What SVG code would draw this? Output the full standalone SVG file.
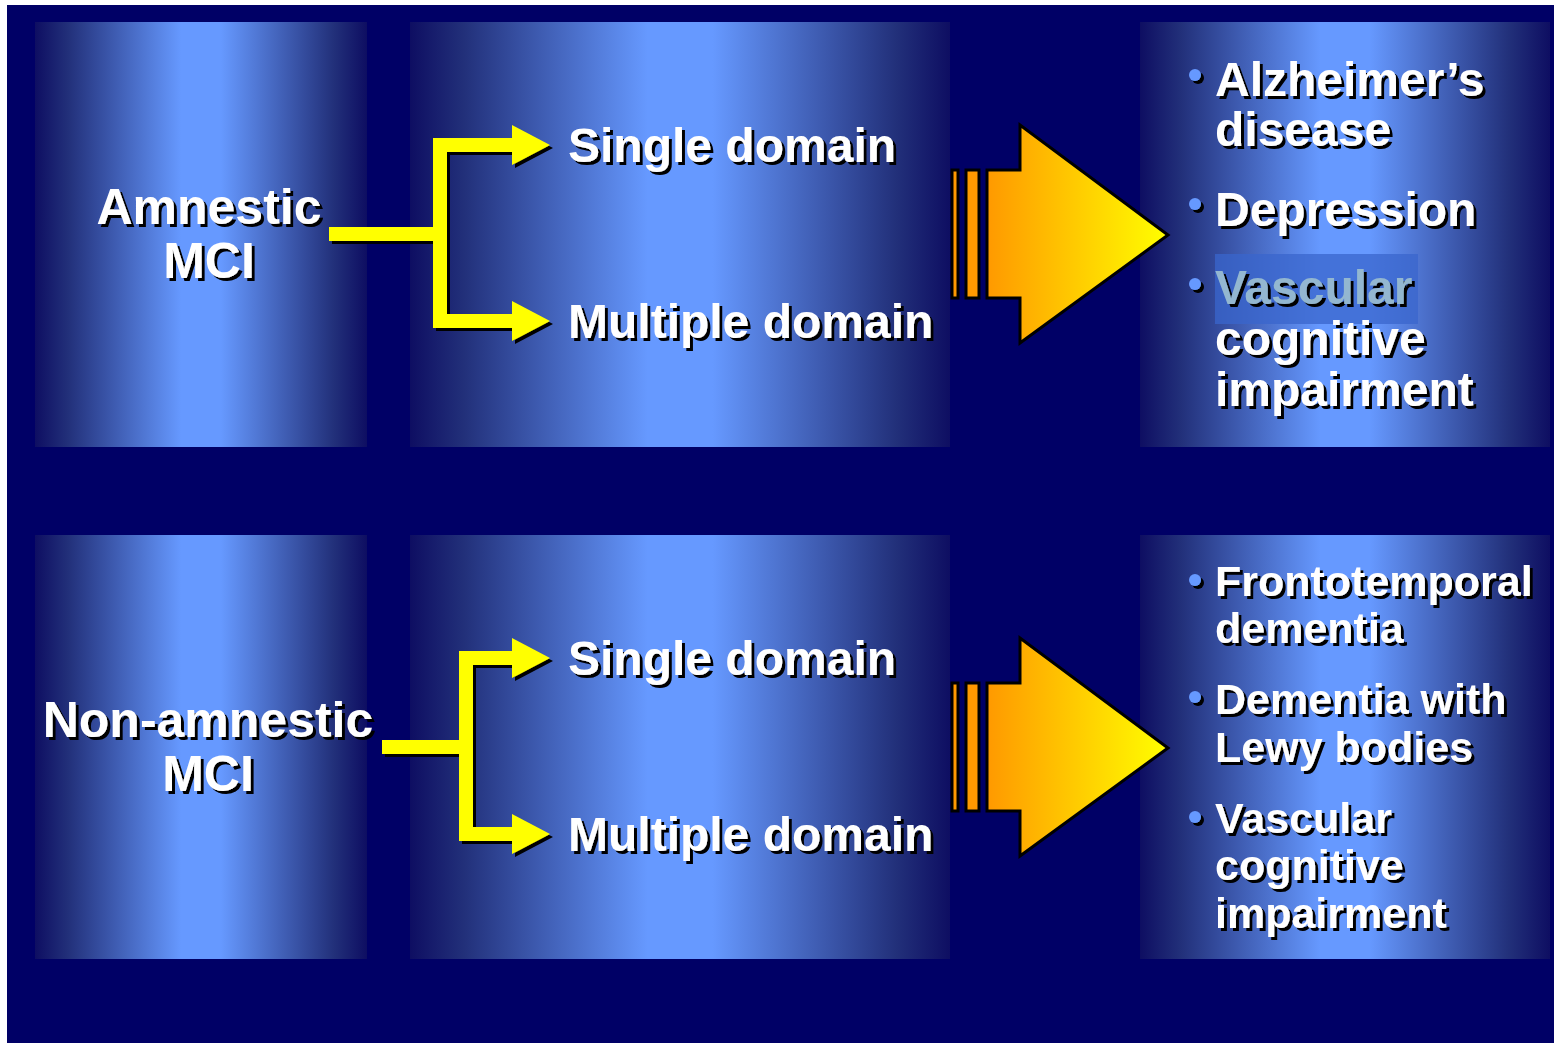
<svg xmlns="http://www.w3.org/2000/svg" width="1554" height="1043" viewBox="0 0 1554 1043">
<defs>
<linearGradient id="panelGrad" x1="0" y1="0" x2="1" y2="0">
<stop offset="0" stop-color="#0e0e62"/>
<stop offset="0.1" stop-color="#22307a"/>
<stop offset="0.44" stop-color="#6699ff"/>
<stop offset="0.56" stop-color="#6699ff"/>
<stop offset="0.9" stop-color="#22307a"/>
<stop offset="1" stop-color="#0e0e62"/>
</linearGradient>
<linearGradient id="arrowGrad" x1="0" y1="0" x2="1" y2="0">
<stop offset="0" stop-color="#ff9900"/>
<stop offset="1" stop-color="#ffff00"/>
</linearGradient>
<filter id="shadow" x="-10%" y="-10%" width="130%" height="130%">
<feDropShadow dx="3" dy="3" stdDeviation="0.6" flood-color="#000000" flood-opacity="1"/>
</filter>
</defs>
<style>
.panel{fill:url(#panelGrad);}
.lbl{font-family:"Liberation Sans",Arial,sans-serif;font-weight:bold;fill:#ffffff;filter:url(#shadow);}
.big{font-size:48px;}
.left{font-size:50px;}
.small{font-size:43px;}
.mid{text-anchor:middle;}
.bullet{fill:#6699ff;filter:url(#shadow);}
.conn{fill:none;stroke:#ffff00;stroke-width:14;}
.head{fill:#ffff00;}
.bigarrow{fill:url(#arrowGrad);stroke:#000000;stroke-width:3;stroke-linejoin:miter;}
.stripe{fill:#ff9900;stroke:#000000;stroke-width:3;}
</style>
<rect x="0" y="0" width="1554" height="1043" fill="#ffffff"/>
<rect x="7" y="5" width="1547" height="1038" fill="#000066"/>

<g id="amnestic">
<rect class="panel" x="35" y="22" width="332" height="425"/>
<text class="lbl left mid" x="209" y="224">Amnestic</text>
<text class="lbl left mid" x="209" y="278">MCI</text>
</g>
<g id="amnestic-domains">
<rect class="panel" x="410" y="22" width="540" height="425"/>
<text class="lbl big" x="568" y="162">Single domain</text>
<text class="lbl big" x="568" y="338">Multiple domain</text>
</g>
<g id="amnestic-outcomes">
<rect class="panel" x="1140" y="22" width="410" height="425"/>
<circle class="bullet" cx="1195" cy="75" r="6"/>
<text class="lbl big" x="1215" y="96">Alzheimer’s</text>
<text class="lbl big" x="1215" y="146">disease</text>
<circle class="bullet" cx="1195" cy="204" r="6"/>
<text class="lbl big" x="1215" y="226">Depression</text>
<rect x="1215" y="254" width="203" height="70" fill="#3a66cc" opacity="0.75"/>
<circle class="bullet" cx="1195" cy="284" r="6"/>
<text class="lbl big" x="1215" y="304" style="fill:#93b7d0">Vascular</text>
<text class="lbl big" x="1215" y="355">cognitive</text>
<text class="lbl big" x="1215" y="406">impairment</text>
</g>

<g id="nonamnestic">
<rect class="panel" x="35" y="535" width="332" height="424"/>
<text class="lbl left mid" x="208" y="737">Non-amnestic</text>
<text class="lbl left mid" x="208" y="791">MCI</text>
</g>
<g id="nonamnestic-domains">
<rect class="panel" x="410" y="535" width="540" height="424"/>
<text class="lbl big" x="568" y="675">Single domain</text>
<text class="lbl big" x="568" y="851">Multiple domain</text>
</g>
<g id="nonamnestic-outcomes">
<rect class="panel" x="1140" y="535" width="410" height="424"/>
<circle class="bullet" cx="1195" cy="580" r="6"/>
<text class="lbl small" x="1215" y="596">Frontotemporal</text>
<text class="lbl small" x="1215" y="643">dementia</text>
<circle class="bullet" cx="1195" cy="697" r="6"/>
<text class="lbl small" x="1215" y="714">Dementia with</text>
<text class="lbl small" x="1215" y="762">Lewy bodies</text>
<circle class="bullet" cx="1195" cy="817" r="6"/>
<text class="lbl small" x="1215" y="833">Vascular</text>
<text class="lbl small" x="1215" y="880">cognitive</text>
<text class="lbl small" x="1215" y="928">impairment</text>
</g>

<g id="connectors">
<g filter="url(#shadow)">
<path class="conn" d="M329 234 H440 M440 138 V328 M433 145 H515 M433 321 H515"/>
<polygon class="head" points="512,125 550,145 512,165"/>
<polygon class="head" points="512,301 550,321 512,341"/>
</g>
<g filter="url(#shadow)">
<path class="conn" d="M382 747 H466 M466 651 V841 M459 658 H515 M459 834 H515"/>
<polygon class="head" points="512,638 550,658 512,678"/>
<polygon class="head" points="512,814 550,834 512,854"/>
</g>
<g>
<rect class="stripe" x="952" y="170" width="6" height="128"/>
<rect class="stripe" x="966" y="170" width="13" height="128"/>
<polygon class="bigarrow" points="987,170 1020,170 1020,125 1168,235 1020,343 1020,298 987,298"/>
</g>
<g>
<rect class="stripe" x="952" y="683" width="6" height="128"/>
<rect class="stripe" x="966" y="683" width="13" height="128"/>
<polygon class="bigarrow" points="987,683 1020,683 1020,638 1168,748 1020,856 1020,811 987,811"/>
</g>
</g>
</svg>
